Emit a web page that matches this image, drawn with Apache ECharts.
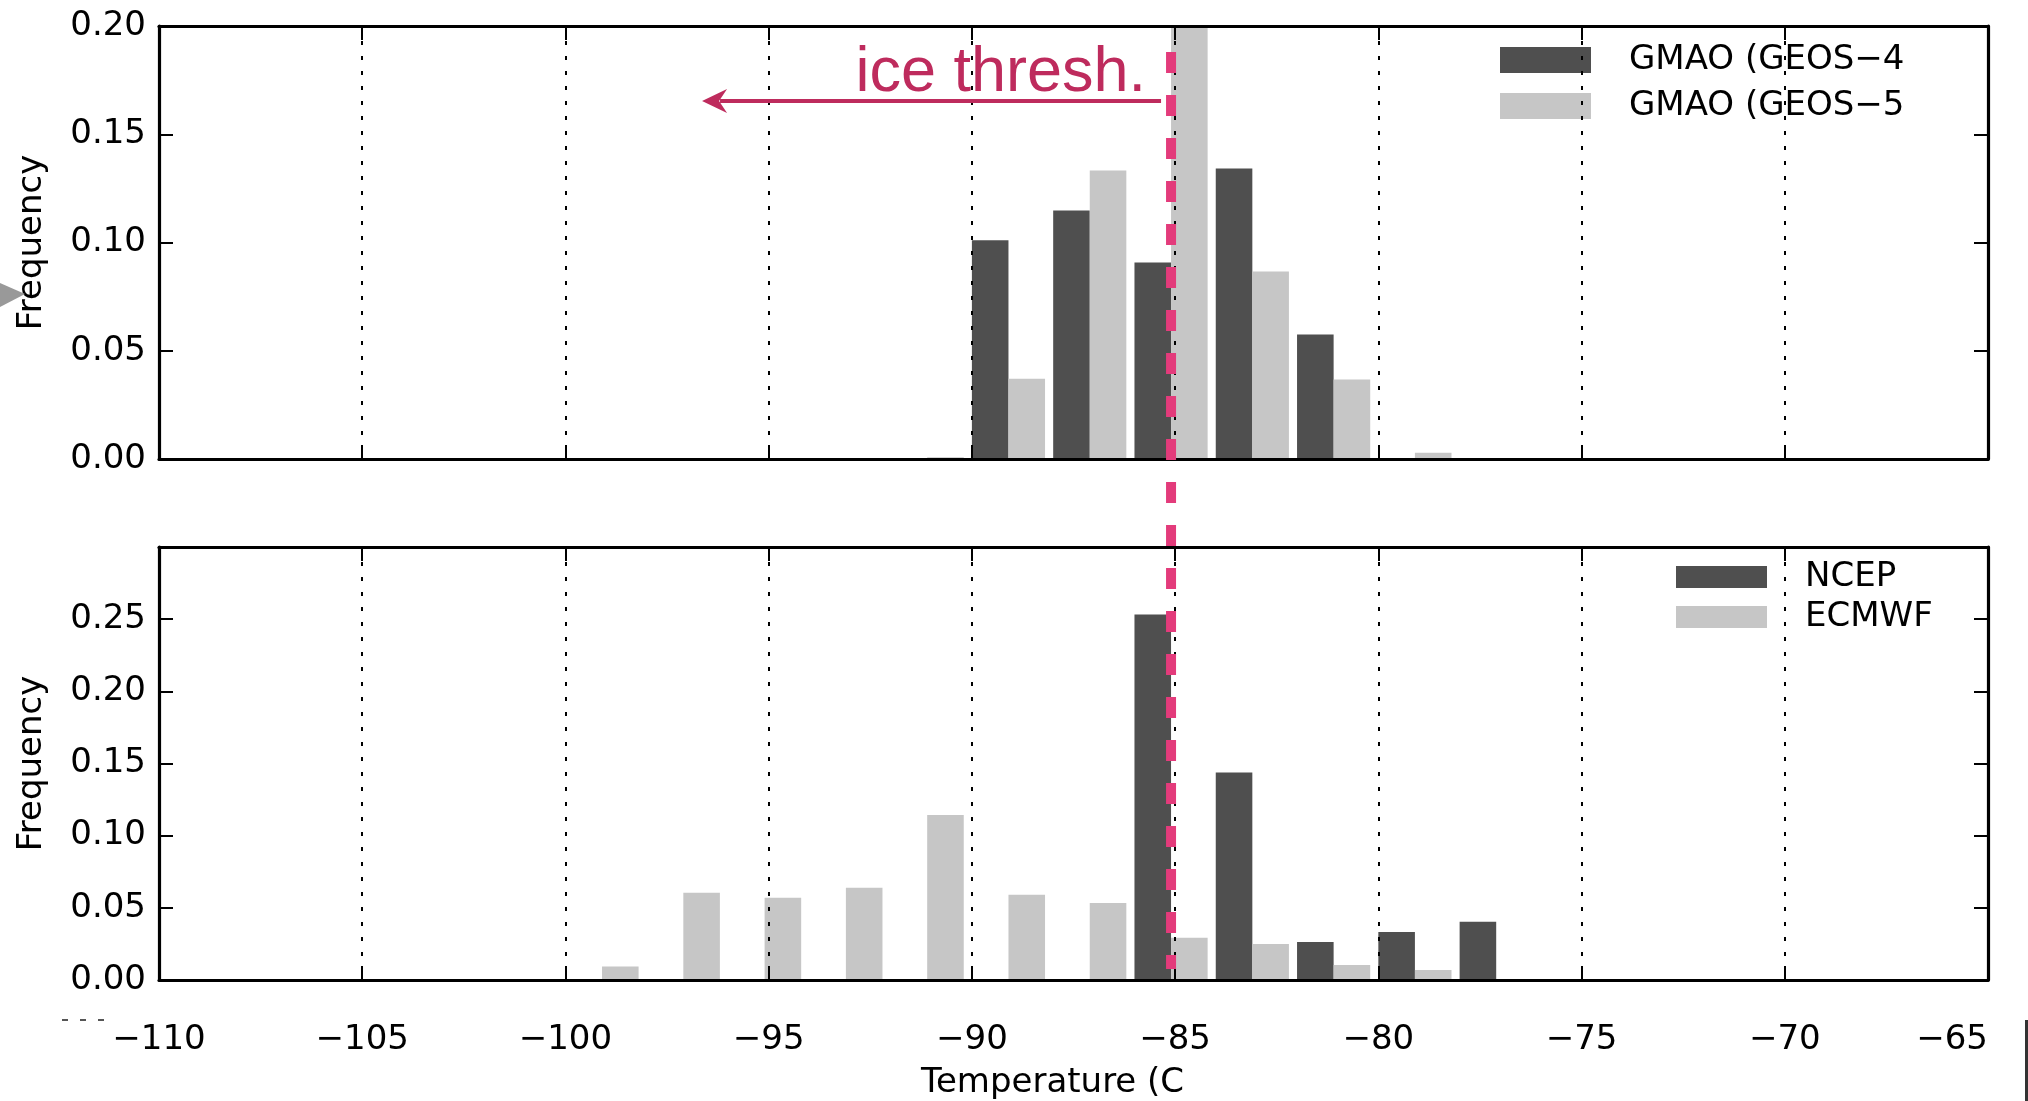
<!DOCTYPE html>
<html>
<head>
<meta charset="utf-8">
<script src="https://cdn.jsdelivr.net/npm/echarts@6/dist/echarts.min.js"></script>
<style>
  html, body { margin: 0; padding: 0; background: #fff; }
  #chart { width: 2028px; height: 1101px; }
</style>
</head>
<body>
<div id="chart"></div>
<script>
// ---- Data: normalised histograms of cold-point temperature, 2 °C bins ----
const BIN_WIDTH = 2;            // °C
const ICE_THRESH = -85.1;       // °C, ice threshold marker

// Upper panel: GMAO analyses (left edge of each bin)
const binsTop = [-92, -90, -88, -86, -84, -82, -80];
const geos4   = [0, 0.1010, 0.1148, 0.0908, 0.1342, 0.0575, 0];
const geos5   = [0.0008, 0.0371, 0.1333, 0.2000, 0.0866, 0.0367, 0.0029];

// Lower panel: NCEP and ECMWF
const binsBottom = [-100, -98, -96, -94, -92, -90, -88, -86, -84, -82, -80, -78];
const ncep  = [0, 0, 0, 0, 0, 0, 0, 0.2533, 0.1437, 0.0264, 0.0333, 0.0403];
const ecmwf = [0.0093, 0.0605, 0.0570, 0.0639, 0.1144, 0.0591, 0.0534, 0.0292, 0.0250, 0.0104, 0.0070, 0.0005];

// Axis ticks
const xTicks = { min: -110, max: -65, interval: 5 };
const yTop = { min: 0, max: 0.20, interval: 0.05 };
const yBottom = { min: 0, max: 0.30, interval: 0.05 };

const names = {
  geos4: 'GMAO (GEOS\u22124',
  geos5: 'GMAO (GEOS\u22125',
  ncep: 'NCEP',
  ecmwf: 'ECMWF'
};

// ---- Styling ----
const FONT = 'DejaVu Sans';
const FS = 34;
const DARK = '#4f4f4f';
const LIGHT = '#c6c6c6';
const BAR_FRAC = 0.45;   // share of a bin taken by each of the two bars
const GRID_L = 159, GRID_R = 40, GRID_H = 433;
const TOP1 = 26, TOP2 = 547;

const fmtX = v => (v < 0 ? '\u2212' : '') + Math.abs(v);
const tick = { show: true, inside: true, length: 14, lineStyle: { color: '#000', width: 2 } };
const frame = { show: true, onZero: false, lineStyle: { color: '#000', width: 3.2 } };

function xAxes(grid, withLabels, withName) {
  return [
    {
      type: 'value', gridIndex: grid, position: 'bottom', ...xTicks, z: 10,
      axisLine: frame, axisTick: tick,
      axisLabel: withLabels
        ? { show: true, margin: 43, fontSize: FS, color: '#000', fontFamily: FONT,
            formatter: fmtX, alignMaxLabel: 'right' }
        : { show: false },
      splitLine: { show: true, lineStyle: { color: '#000', width: 2, type: [4, 11] } },
      name: withName ? 'Temperature (C' : '',
      nameLocation: 'middle', nameGap: 86,
      nameTextStyle: { fontSize: FS, color: '#000', fontFamily: FONT, padding: [0, 42, 0, 0] }
    },
    {
      type: 'value', gridIndex: grid, position: 'top', ...xTicks, z: 10,
      axisLine: frame, axisTick: tick, axisLabel: { show: false }, splitLine: { show: false }
    }
  ];
}

function yAxes(grid, range, hideTop) {
  return [
    {
      type: 'value', gridIndex: grid, position: 'left', ...range, z: 10,
      axisLine: frame, axisTick: tick,
      axisLabel: {
        show: true, margin: 13, fontSize: FS, color: '#000', fontFamily: FONT,
        formatter: v => (hideTop && v > range.max - 1e-9) ? '' : v.toFixed(2)
      },
      splitLine: { show: false },
      name: 'Frequency', nameLocation: 'middle', nameGap: 110,
      nameTextStyle: { fontSize: FS, color: '#000', fontFamily: FONT }
    },
    {
      type: 'value', gridIndex: grid, position: 'right', ...range, z: 10,
      axisLine: frame, axisTick: tick, axisLabel: { show: false }, splitLine: { show: false }
    }
  ];
}

// Each bin holds two side-by-side bars; slot 0 is the left bar, slot 1 the right.
function histBar(slot) {
  return function (params, api) {
    const left = api.value(0);
    const v = api.value(1);
    if (!v) return null;
    const a = api.coord([left + BIN_WIDTH * BAR_FRAC * slot, v]);
    const b = api.coord([left + BIN_WIDTH * BAR_FRAC * (slot + 1), 0]);
    return {
      type: 'rect',
      shape: { x: a[0], y: a[1], width: b[0] - a[0], height: b[1] - a[1] },
      style: { fill: api.visual('color') }
    };
  };
}

function histSeries(name, bins, values, slot, color, xi, yi) {
  return {
    type: 'custom', name: name,
    xAxisIndex: xi, yAxisIndex: yi,
    renderItem: histBar(slot),
    encode: { x: 0, y: 1 },
    itemStyle: { color: color },
    data: bins.map((b, i) => [b, values[i]]),
    z: 2
  };
}

const legendBase = {
  orient: 'vertical', icon: 'rect', itemWidth: 91, padding: 0,
  textStyle: { fontSize: FS, color: '#000', fontFamily: FONT, padding: [0, 0, 0, 33] },
  selectedMode: false
};

const option = {
  animation: false,
  backgroundColor: '#fff',
  grid: [
    { left: GRID_L, right: GRID_R, top: TOP1, height: GRID_H, show: false },
    { left: GRID_L, right: GRID_R, top: TOP2, height: GRID_H, show: false }
  ],
  xAxis: [...xAxes(0, false, false), ...xAxes(1, true, true)],
  yAxis: [...yAxes(0, yTop, false), ...yAxes(1, yBottom, true)],
  legend: [
    { ...legendBase, left: 1500, top: 43, itemHeight: 26, itemGap: 12, data: [names.geos4, names.geos5] },
    { ...legendBase, left: 1676, top: 560, itemHeight: 22, itemGap: 6, data: [names.ncep, names.ecmwf] }
  ],
  series: [
    histSeries(names.geos4, binsTop, geos4, 0, DARK, 0, 0),
    histSeries(names.geos5, binsTop, geos5, 1, LIGHT, 0, 0),
    histSeries(names.ncep, binsBottom, ncep, 0, DARK, 2, 2),
    histSeries(names.ecmwf, binsBottom, ecmwf, 1, LIGHT, 2, 2)
  ]
};

const chart = echarts.init(document.getElementById('chart'), null, { renderer: 'canvas' });
chart.setOption(option);

// ---- Ice-threshold annotation spanning both panels ----
const PINK = '#e33b7b';
const WINE = '#be2b5d';
const xTh = chart.convertToPixel({ xAxisIndex: 0 }, ICE_THRESH);
const yTopEdge = chart.convertToPixel({ yAxisIndex: 0 }, yTop.max);
const yBottomEdge = chart.convertToPixel({ yAxisIndex: 2 }, 0);
const arrowY = yTopEdge + 75;
const arrowTip = xTh - 469;

chart.setOption({
  graphic: [
    {
      type: 'line', z: 20,
      shape: { x1: xTh, y1: yTopEdge + 26, x2: xTh, y2: yBottomEdge - 11 },
      style: { stroke: PINK, lineWidth: 10, lineDash: [21, 22] }
    },
    {
      type: 'line', z: 20,
      shape: { x1: xTh - 10, y1: arrowY, x2: arrowTip + 18, y2: arrowY },
      style: { stroke: WINE, lineWidth: 4 }
    },
    {
      type: 'polygon', z: 20,
      shape: { points: [[arrowTip, arrowY], [arrowTip + 25, arrowY - 12], [arrowTip + 17, arrowY], [arrowTip + 25, arrowY + 12]] },
      style: { fill: WINE }
    },
    {
      type: 'text', z: 20,
      x: xTh - 25, y: arrowY - 27,
      style: {
        text: 'ice thresh.', fill: WINE, fontSize: 63,
        fontFamily: 'Liberation Sans', align: 'right', verticalAlign: 'middle'
      }
    },
    // slide pointer and cropped edges around the figure
    {
      type: 'polygon', z: 20,
      shape: { points: [[0, 283], [25, 294], [0, 307]] },
      style: { fill: '#999' }
    },
    {
      type: 'line', z: 20,
      shape: { x1: 62, y1: 1020, x2: 112, y2: 1020 },
      style: { stroke: '#555', lineWidth: 2, lineDash: [6, 12] }
    },
    {
      type: 'rect', z: 20,
      shape: { x: 2025, y: 1020, width: 3, height: 81 },
      style: { fill: '#333' }
    }
  ]
});
</script>
</body>
</html>
